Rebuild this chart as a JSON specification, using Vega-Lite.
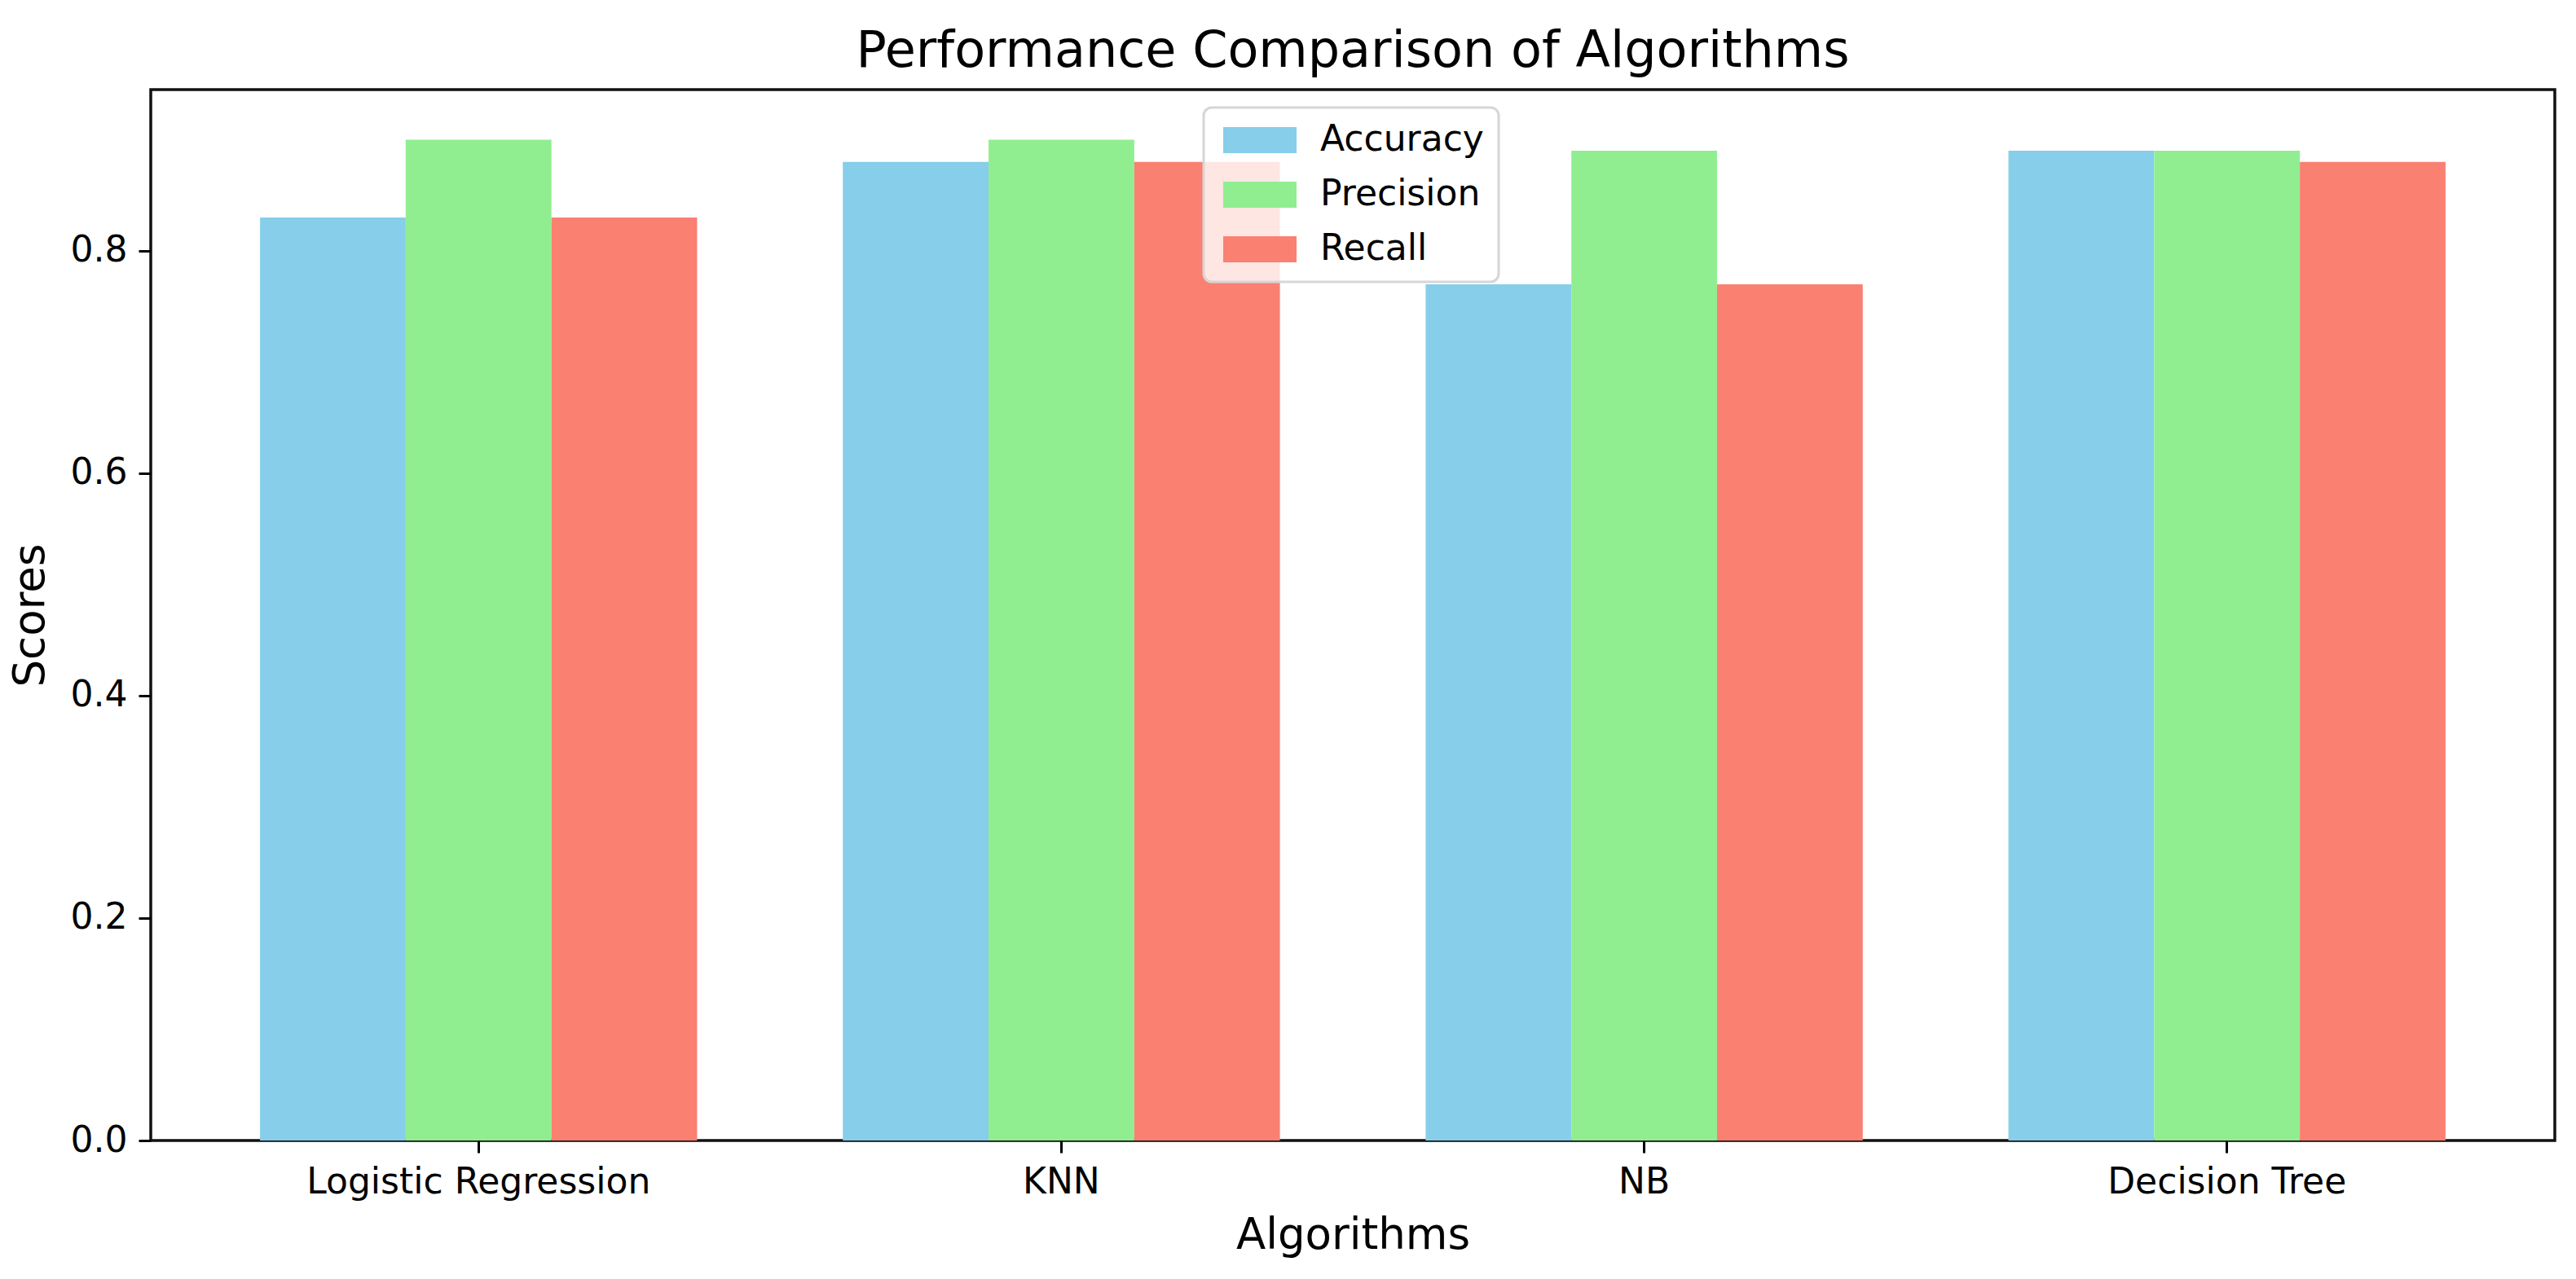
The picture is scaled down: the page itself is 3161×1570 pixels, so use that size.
{
  "$schema": "https://vega.github.io/schema/vega-lite/v6.json",
  "width": 2950,
  "height": 1290,
  "autosize": {"type": "none"},
  "padding": {"left": 185, "top": 110, "right": 26, "bottom": 170},
  "background": "white",
  "title": {"text": "Performance Comparison of Algorithms", "fontSize": 62, "font": "DejaVu Sans", "fontWeight": "normal", "color": "black", "offset": 15, "anchor": "middle"},
  "config": {
    "font": "DejaVu Sans",
    "view": {"stroke": "#111", "strokeWidth": 3.5},
    "legend": {"strokeWidth": 3},
    "axis": {"domain": false, "grid": false, "tickColor": "black", "tickWidth": 3, "tickSize": 15, "labelFontSize": 44, "labelColor": "black", "titleFontSize": 53, "titleFontWeight": "normal", "titleColor": "black", "labelFont": "DejaVu Sans", "titleFont": "DejaVu Sans", "labelLimit": 1000}
  },
  "data": {"values": [
    {"algo": "Logistic Regression", "metric": "Accuracy", "score": 0.83},
    {"algo": "Logistic Regression", "metric": "Precision", "score": 0.90},
    {"algo": "Logistic Regression", "metric": "Recall", "score": 0.83},
    {"algo": "KNN", "metric": "Accuracy", "score": 0.88},
    {"algo": "KNN", "metric": "Precision", "score": 0.90},
    {"algo": "KNN", "metric": "Recall", "score": 0.88},
    {"algo": "NB", "metric": "Accuracy", "score": 0.77},
    {"algo": "NB", "metric": "Precision", "score": 0.89},
    {"algo": "NB", "metric": "Recall", "score": 0.77},
    {"algo": "Decision Tree", "metric": "Accuracy", "score": 0.89},
    {"algo": "Decision Tree", "metric": "Precision", "score": 0.89},
    {"algo": "Decision Tree", "metric": "Recall", "score": 0.88}
  ]},
  "mark": {"type": "bar"},
  "encoding": {
    "x": {"field": "algo", "type": "nominal", "sort": ["Logistic Regression", "KNN", "NB", "Decision Tree"],
      "scale": {"paddingInner": 0.25, "paddingOuter": 0.1875},
      "axis": {"title": "Algorithms", "labelAngle": 0, "labelPadding": 14, "titlePadding": 17}},
    "xOffset": {"field": "metric", "type": "nominal", "sort": ["Accuracy", "Precision", "Recall"], "scale": {"paddingInner": 0, "paddingOuter": 0}},
    "y": {"field": "score", "type": "quantitative", "scale": {"domain": [0, 0.945], "nice": false, "zero": true},
      "axis": {"title": "Scores", "values": [0, 0.2, 0.4, 0.6, 0.8], "format": ".1f", "labelPadding": 14, "titlePadding": 22}},
    "color": {"field": "metric", "type": "nominal", "sort": ["Accuracy", "Precision", "Recall"],
      "scale": {"domain": ["Accuracy", "Precision", "Recall"], "range": ["#87CEEB", "#90EE90", "#FA8072"]},
      "legend": {"title": null, "orient": "none", "legendX": 1292, "legendY": 22,
        "fillColor": "rgba(255,255,255,0.8)", "strokeColor": "#d6d6d6", "cornerRadius": 10, "padding": 18,
        "symbolType": "M-1,-1H4.625V1H-1Z", "symbolSize": 1024, "symbolStrokeWidth": 0, "symbolOpacity": 1,
        "labelFontSize": 44, "labelColor": "black", "labelFont": "DejaVu Sans", "labelOffset": 81, "rowPadding": 23, "labelLimit": 400}}
  }
}
